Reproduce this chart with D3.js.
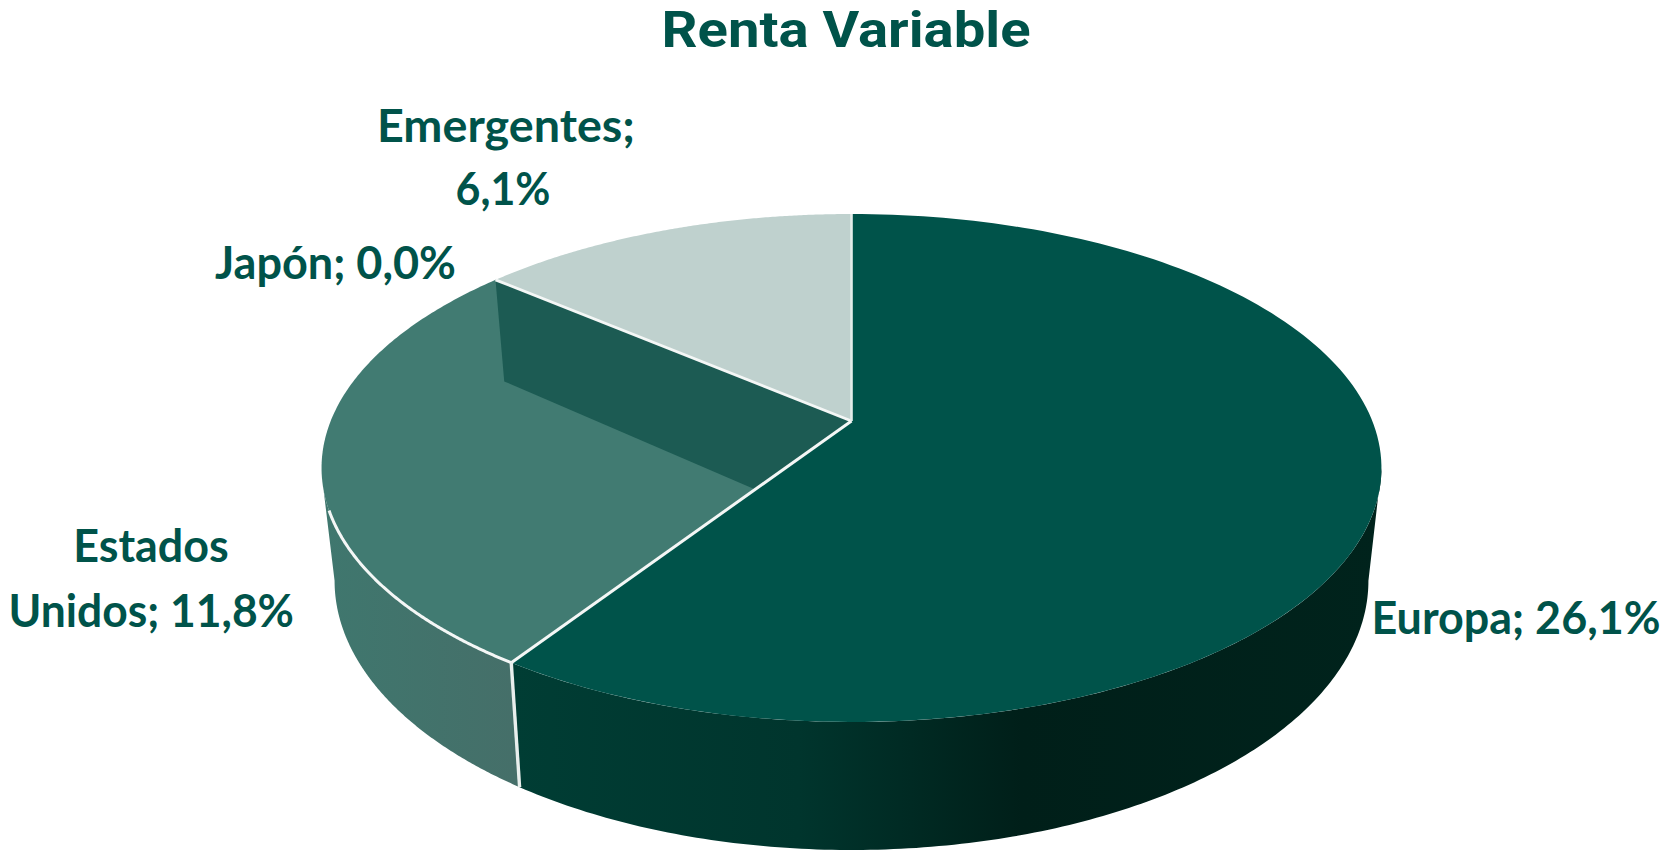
<!DOCTYPE html>
<html>
<head>
<meta charset="utf-8">
<script src="https://cdnjs.cloudflare.com/ajax/libs/d3/7.8.5/d3.min.js"></script>
<style>
html,body{margin:0;padding:0;background:#fff;overflow:hidden}
svg{display:block}
.lab{font-family:Lato,sans-serif;font-weight:700;fill:#00534a}
</style>
</head>
<body>
<svg id="c" width="1671" height="852"></svg>
<script>
const titleText = "Renta Variable";
const categories = ["Europa", "Estados Unidos", "Japón", "Emergentes"];
const values = [26.1, 11.8, 0.0, 6.1];
const topColors = ["#00534a", "#417b72", "#1c5b53", "#bfd1ce"];

const svg = d3.select("#c");
const TAU = Math.PI * 2, DEG = Math.PI / 180;

// Pie angles from the data, clockwise from 12 o'clock
const arcs = d3.pie().sort(null).value(d => d)(values);

// Perspective planes: a circle in the plane (u,v) projected to the screen.
const k = -0.185;
const cx = 851.5;
const upper = {a: 520.8, A: 421, B: 167.4};
const lower = {a: 508,   A: 531, B: 161.75};
const project = (plane, t) => {
  const u = Math.sin(t), v = -Math.cos(t), d = 1 + k * v;
  return [cx + plane.a * u / d, (plane.A + plane.B * v) / d];
};
const centre = plane => [cx, plane.A];
const span = (a, b, n = 160) => d3.range(n + 1).map(i => a + (b - a) * i / n);
const line = d3.line();
const closed = pts => line(pts) + "Z";

const [eu, us, jp, em] = arcs;
const tangentR = Math.acos(k);           // silhouette on the right
const tangentL = TAU - Math.acos(k);     // silhouette on the left

// Gradients for the side walls
const defs = svg.append("defs");
const grad = (id, stops) => {
  const g = defs.append("linearGradient").attr("id", id)
    .attr("gradientUnits", "userSpaceOnUse")
    .attr("x1", 322).attr("x2", 1382).attr("y1", 0).attr("y2", 0);
  stops.forEach(s => g.append("stop").attr("offset", s[0]).attr("stop-color", s[1]));
};
grad("sideEu", [[0.18, "#003d34"], [0.45, "#00352d"], [0.66, "#001f19"], [1, "#00231c"]]);
grad("sideUs", [[0, "#3f776e"], [0.18, "#456f69"]]);

// Side walls
svg.append("path")
  .attr("d", closed([
    ...span(eu.endAngle, tangentR).map(t => project(upper, t)),
    ...span(tangentR, eu.endAngle).map(t => project(lower, t))
  ]))
  .attr("fill", "url(#sideEu)");
svg.append("path")
  .attr("d", closed([
    ...span(eu.endAngle, tangentL - 5 * DEG).map(t => project(upper, t)),
    ...span(tangentL, eu.endAngle).map(t => project(lower, t))
  ]))
  .attr("fill", "url(#sideUs)");

// Top faces
const face = d => closed([centre(upper), ...span(d.startAngle, d.endAngle).map(t => project(upper, t))]);
svg.append("path").attr("d", face(us)).attr("fill", topColors[1]);

// Inner wall left by the empty Japón slice
svg.append("path")
  .attr("d", closed([
    centre(upper), project(upper, jp.startAngle),
    project(lower, jp.startAngle), centre(lower)
  ]))
  .attr("fill", topColors[2]);

svg.append("path").attr("d", face(em)).attr("fill", topColors[3]);
svg.append("path").attr("d", face(eu)).attr("fill", topColors[0]);

// White separators
const sep = (pts, w, c) => svg.append("path").attr("d", line(pts))
  .attr("fill", "none").attr("stroke", c).attr("stroke-width", w);
sep([centre(upper), project(upper, eu.endAngle)], 3, "#f4f7f6");
sep([centre(upper), project(upper, em.startAngle)], 2.8, "#f4f7f6");
sep([centre(upper), project(upper, 0)], 2.6, "#e4ecea");
sep(span(eu.endAngle, TAU * 250 / 360).map(t => project(upper, t)), 3, "#f4f7f6");
sep([project(upper, eu.endAngle), project(lower, eu.endAngle)], 3.4, "#e9efed");

// Title
svg.append("text").text(titleText)
  .attr("x", 846).attr("y", 47).attr("text-anchor", "middle")
  .attr("textLength", 369).attr("lengthAdjust", "spacingAndGlyphs")
  .style("font-family", "Roboto,sans-serif").style("font-weight", 700)
  .style("font-size", "50px").style("fill", "#00534a");

// Labels: one row per text line, with the width
const fmt = v => d3.format(".1f")(v).replace(".", ",") + "%";
const labelRows = [
  [categories[3] + ";", 506, 142, "middle", 258],
  [fmt(values[3]), 503, 205, "middle", 95],
  [categories[2] + "; " + fmt(values[2]), 215, 279, "start", 241],
  ["Estados", 151, 562, "middle", 155.5],
  ["Unidos; " + fmt(values[1]), 8.5, 627, "start", 285.5],
  [categories[0] + ";\u00a0" + fmt(values[0]), 1371.5, 634, "start", 289]
];
svg.selectAll("text.lab").data(labelRows).join("text")
  .attr("class", "lab")
  .attr("x", d => d[1]).attr("y", d => d[2]).attr("text-anchor", d => d[3])
  .attr("textLength", d => d[4]).attr("lengthAdjust", "spacingAndGlyphs")
  .style("font-size", "46px")
  .text(d => d[0]);
</script>
</body>
</html>
